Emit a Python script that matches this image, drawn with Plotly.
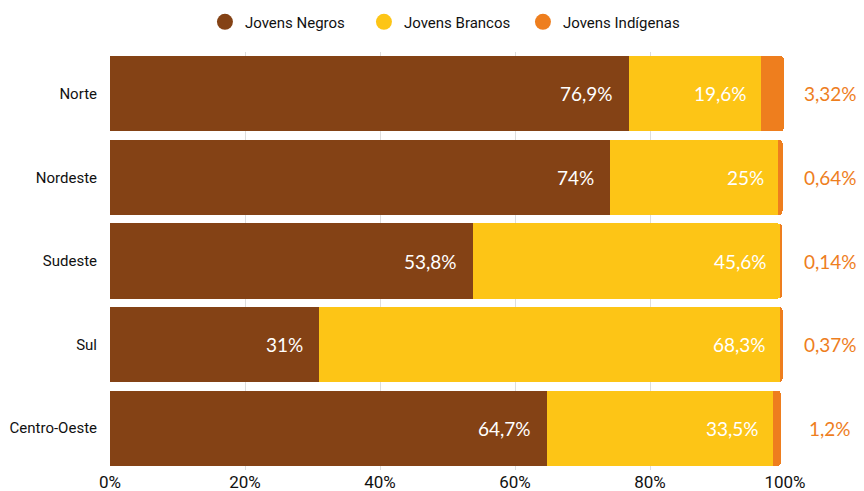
import plotly.graph_objects as go

# Regiões e percentuais
regioes = ["Norte", "Nordeste", "Sudeste", "Sul", "Centro-Oeste"]
negros = [76.9, 74, 53.8, 31, 64.7]
brancos = [19.6, 25, 45.6, 68.3, 33.5]
indigenas = [3.32, 0.64, 0.14, 0.37, 1.2]

negros_txt = ["76,9%", "74%", "53,8%", "31%", "64,7%"]
brancos_txt = ["19,6%", "25%", "45,6%", "68,3%", "33,5%"]
indigenas_txt = ["3,32%", "0,64%", "0,14%", "0,37%", "1,2%"]

tick_vals = [0, 20, 40, 60, 80, 100]
tick_text = ["0%", "20%", "40%", "60%", "80%", "100%"]

COR_NEGROS = "#844215"
COR_BRANCOS = "#FDC516"
COR_INDIGENAS = "#EE7E1E"

AXIS_FONT = "Roboto, sans-serif"
LABEL_FONT = "Lato, Noto Sans, sans-serif"

fig = go.Figure()

series = [
    ("Jovens Negros", negros, COR_NEGROS),
    ("Jovens Brancos", brancos, COR_BRANCOS),
    ("Jovens Indígenas", indigenas, COR_INDIGENAS),
]
for name, vals, color in series:
    fig.add_trace(go.Bar(
        y=regioes, x=vals, orientation="h", name=name,
        marker=dict(color=color, line=dict(width=0)),
        showlegend=False, hoverinfo="skip",
    ))
    # dummy trace so the legend shows circles
    fig.add_trace(go.Scatter(
        x=[None], y=[None], mode="markers", name=name,
        marker=dict(symbol="circle", size=18, color=color),
    ))

annotations = []
for i, reg in enumerate(regioes):
    annotations.append(dict(
        x=negros[i], y=reg, text=negros_txt[i], showarrow=False,
        xanchor="right", xshift=-14,
        font=dict(family=LABEL_FONT, size=19, color="white"),
    ))
    annotations.append(dict(
        x=negros[i] + brancos[i], y=reg, text=brancos_txt[i], showarrow=False,
        xanchor="right", xshift=-12,
        font=dict(family=LABEL_FONT, size=19, color="white"),
    ))
    # labels to the right of the plot area
    annotations.append(dict(
        xref="paper", x=1.067, y=reg, text=indigenas_txt[i], showarrow=False,
        xanchor="center",
        font=dict(family=LABEL_FONT, size=19, color=COR_INDIGENAS),
    ))

fig.update_layout(
    width=864, height=491,
    barmode="stack", bargap=0.1, barcornerradius=4,
    margin=dict(l=110, r=79, t=52, b=21, autoexpand=False),
    paper_bgcolor="white", plot_bgcolor="white",
    font=dict(family=AXIS_FONT, color="#111111"),
    legend=dict(
        orientation="h", x=0.494, xanchor="center", y=0.955, yanchor="middle",
        yref="container", font=dict(size=15, family=AXIS_FONT),
        itemwidth=30, entrywidth=114, traceorder="normal",
    ),
    xaxis=dict(
        range=[0, 100], tickvals=tick_vals, ticktext=tick_text,
        showgrid=True, gridcolor="#dddddd", gridwidth=1, zeroline=False,
        tickfont=dict(size=17, family=AXIS_FONT), ticks="", ticklabelstandoff=0,
        automargin=False,
    ),
    yaxis=dict(
        autorange="reversed", showgrid=False, ticks="",
        tickfont=dict(size=15, family=AXIS_FONT), ticklabelstandoff=12,
        automargin=False,
    ),
    annotations=annotations,
)

# drop the default page margin so the figure sits at the window corner
fig.write_html(
    "out.html",
    config={"displayModeBar": False},
    post_script="document.body.style.margin='0';",
)
